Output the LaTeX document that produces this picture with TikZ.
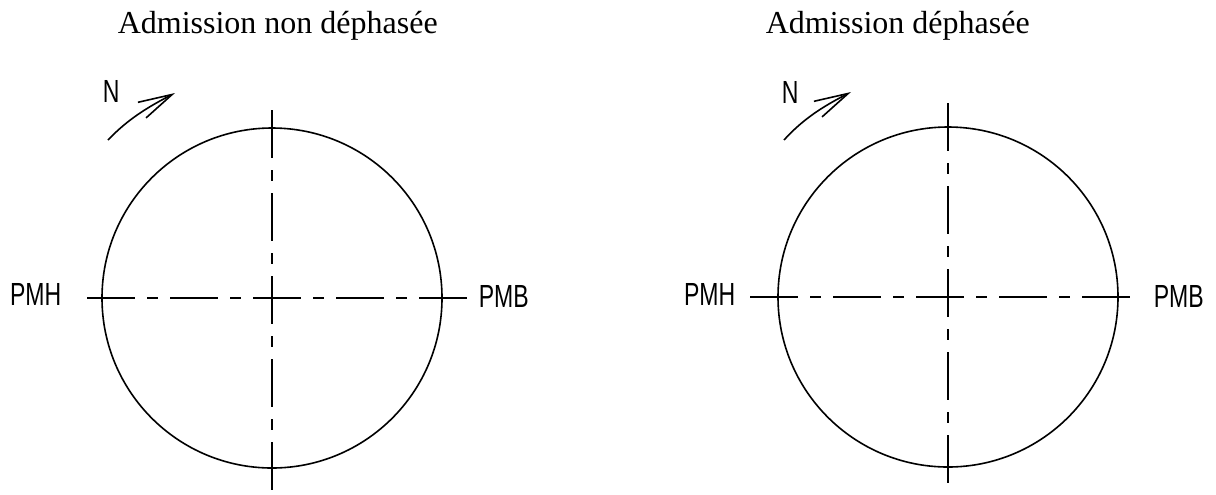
\documentclass[tikz,border=0pt]{standalone}
\usepackage{fontspec}
\setmainfont{Liberation Serif}
\newfontfamily\cadfont{Liberation Sans}
\newcommand{\cadtext}[1]{\scalebox{0.72}[1]{\cadfont #1}}
\usetikzlibrary{arrows.meta}

\begin{document}
\begin{tikzpicture}[x=0.5pt, y=-0.5pt, line width=0.8pt,
    axeline/.style={dash pattern=on 24pt off 6pt on 5.5pt off 6pt},
    cad/.style={inner sep=0pt, font=\fontsize{16}{16}\selectfont},
    titre/.style={inner sep=0pt, anchor=base west, font=\fontsize{16}{16}\selectfont},
    fleche/.style={-{Straight Barb[length=17pt, width=8.8pt]}}]
                \useasboundingbox (0,0) rectangle (1216,494);

                % Admission non dephasee
                \node[titre] (titreA) at (117,33) {Admission non déphasée};
                \coordinate (centreA) at (272,298);
                \draw (centreA) circle (170);
                \draw[axeline] (87,298) -- (470,298); % PMH - PMB
                \draw[axeline] (272,110) -- (272,492);
                \node[cad, anchor=base east] (pmhA) at (62,305) {\cadtext{PMH}};
                \node[cad, anchor=base west] (pmbA) at (478,307) {\cadtext{PMB}};
                \node[cad, anchor=base west] (nA) at (102,102) {\cadtext{N}};
                \draw[fleche] (108,140) .. controls (128,119) and (148,107) .. (175,93);

                % Admission dephasee
                \node[titre] (titreB) at (765,33) {Admission déphasée};
                \coordinate (centreB) at (948,297);
                \draw (centreB) circle (170);
                \draw[axeline] (750,297) -- (1133,297); % PMH - PMB
                \draw[axeline] (948,103) -- (948,492);
                \node[cad, anchor=base east] (pmhB) at (736,305) {\cadtext{PMH}};
                \node[cad, anchor=base west] (pmbB) at (1153,307) {\cadtext{PMB}};
                \node[cad, anchor=base west] (nB) at (781,103) {\cadtext{N}};
                \draw[fleche] (784,140) .. controls (804,118) and (824,106) .. (851,92);
            \end{tikzpicture}
\end{document}
